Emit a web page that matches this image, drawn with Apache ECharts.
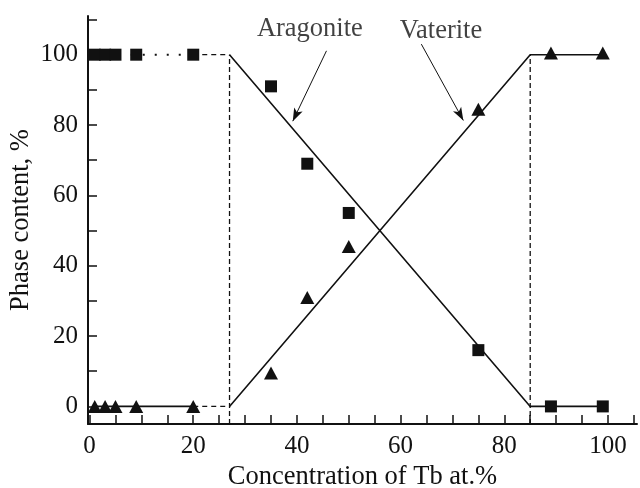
<!DOCTYPE html>
<html>
<head>
<meta charset="utf-8">
<script src="https://cdn.jsdelivr.net/npm/echarts@6/dist/echarts.min.js"></script>
<style>
  html, body { margin: 0; padding: 0; background: #fff; }
  #chart { width: 640px; height: 488px; }
</style>
</head>
<body>
<div id="chart"></div>
<script>
// measured points
const aragonitePts = [[1, 100], [3, 100], [5, 100], [9, 100], [20, 100], [35, 91], [42, 69], [50, 55], [75, 16], [89, 0], [99, 0]]
const vateritePts = [[1, 0], [3, 0], [5, 0], [9, 0], [20, 0], [35, 9.5], [42, 31], [50, 45.5], [75, 84.5], [89, 100.5], [99, 100.5]]

// guide lines
const aragoniteLow = [[1, 100], [20, 100]]
const aragoniteGap = [[20, 100], [27, 100]]
const aragoniteFit = [[27, 100], [85, 0], [99, 0]]
const vateriteLow = [[1, 0], [20, 0]]
const vateriteGap = [[20, 0], [27, 0]]
const vateriteFit = [[27, 0], [85, 100], [99, 100]]
const boundaryLeft = [[27, -5], [27, 100]]
const boundaryRight = [[85, -5], [85, 100]]

// annotations
const labelNames = ['Aragonite', 'Vaterite']
const labelPos = [[42.5, 107.3], [67.8, 106.6]]
const arrowFrom = [[45.7, 101.1], [64.0, 103.0]]
const arrowTo = [[39.2, 81.1], [72.1, 81.3]]

// ticks
const xTicks = [0, 5, 10, 15, 20, 25, 30, 35, 40, 45, 50, 55, 60, 65, 70, 75, 80, 85, 90, 95, 100, 105]
const xLabels = [0, 20, 40, 60, 80, 100]
const yTicks = [0, 10, 20, 30, 40, 50, 60, 70, 80, 90, 100, 110]
const yLabels = [0, 20, 40, 60, 80, 100]

const font = 'Liberation Serif'
const ink = '#111'

const chart = echarts.init(document.getElementById('chart'))

function guide(data, type, width) {
  return {
    type: 'line',
    data: data,
    symbol: 'none',
    silent: true,
    animation: false,
    lineStyle: { color: ink, width: width, type: type, opacity: 1 },
    z: 1,
  }
}

chart.setOption({
  animation: false,
  grid: { left: 88, right: 3, top: 16, bottom: 64, outerBoundsMode: 'none' },
  xAxis: {
    type: 'value',
    min: -0.3,
    max: 105.6,
    name: 'Concentration of Tb at.%',
    nameLocation: 'middle',
    nameGap: 40,
    nameMoveOverlap: false,
    nameTextStyle: { fontFamily: font, fontSize: 26.5, color: ink },
    axisLine: { onZero: false, lineStyle: { color: ink, width: 2 } },
    axisTick: { inside: true, length: 9, customValues: xTicks, lineStyle: { color: ink, width: 1.5 } },
    axisLabel: { customValues: xLabels, margin: 10, fontFamily: font, fontSize: 25, color: ink },
    splitLine: { show: false },
  },
  yAxis: {
    type: 'value',
    min: -5,
    max: 111,
    name: 'Phase content, %',
    nameLocation: 'middle',
    nameGap: 53,
    nameMoveOverlap: false,
    nameTextStyle: { fontFamily: font, fontSize: 26.5, color: ink },
    axisLine: { onZero: false, lineStyle: { color: ink, width: 2 } },
    axisTick: { inside: true, length: 9, customValues: yTicks, lineStyle: { color: ink, width: 1.5 } },
    axisLabel: { customValues: yLabels, margin: 10, fontFamily: font, fontSize: 25, color: ink },
    splitLine: { show: false },
  },
  series: [
    guide(aragoniteLow, [2, 10], 2),
    guide(aragoniteGap, [5, 4], 1.3),
    guide(aragoniteFit, 'solid', 1.6),
    guide(vateriteLow, 'solid', 1.6),
    guide(vateriteGap, [5, 4], 1.3),
    guide(vateriteFit, 'solid', 1.6),
    guide(boundaryLeft, [5, 3], 1.3),
    guide(boundaryRight, [5, 3], 1.3),
    {
      name: 'Aragonite',
      type: 'scatter',
      data: aragonitePts,
      symbol: 'rect',
      symbolSize: 12,
      itemStyle: { color: ink, opacity: 1 },
      z: 3,
    },
    {
      name: 'Vaterite',
      type: 'scatter',
      data: vateritePts,
      symbol: 'triangle',
      symbolSize: [14, 13],
      itemStyle: { color: ink, opacity: 1 },
      z: 3,
    },
    {
      type: 'scatter',
      data: labelPos.map((p, i) => ({ value: p, name: labelNames[i] })),
      symbolSize: 0,
      silent: true,
      label: {
        show: true,
        position: 'inside',
        formatter: (p) => p.name,
        fontFamily: font,
        fontSize: 26.5,
        color: ink,
      },
      markLine: {
        silent: true,
        symbol: ['none', 'arrow'],
        symbolSize: [7, 13],
        label: { show: false },
        lineStyle: { color: ink, width: 1, type: 'solid' },
        data: arrowFrom.map((f, i) => [{ coord: f }, { coord: arrowTo[i] }]),
      },
    },
  ],
})
</script>
</body>
</html>
